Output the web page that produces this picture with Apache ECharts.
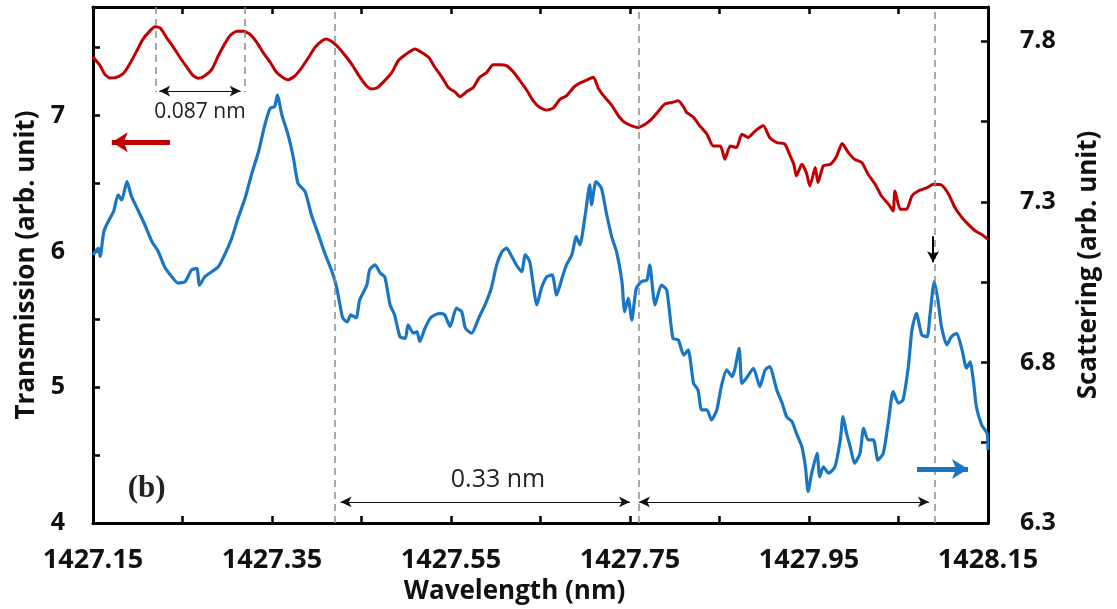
<!DOCTYPE html>
<html>
<head>
<meta charset="utf-8">
<script src="https://cdn.jsdelivr.net/npm/echarts@6/dist/echarts.min.js"></script>
<style>
  html, body { margin: 0; padding: 0; background: #ffffff; }
  #chart { width: 1117px; height: 609px; }
</style>
</head>
<body>
<div id="chart"></div>
<script>
// Wavelength range and tick step (nm)
const X_MIN = 1427.15;
const X_MAX = 1428.15;
const X_STEP = 0.1;

// Transmission (left axis) — wavelength / value
const redWl = [
  1427.150,1427.158,1427.163,1427.169,1427.176,1427.184,1427.191,1427.199,1427.206,1427.214,
  1427.219,1427.225,1427.232,1427.240,1427.247,1427.255,1427.262,1427.268,1427.275,1427.283,
  1427.290,1427.296,1427.303,1427.311,1427.318,1427.325,1427.333,1427.340,1427.348,1427.355,
  1427.363,1427.368,1427.376,1427.383,1427.391,1427.398,1427.406,1427.411,1427.418,1427.424,
  1427.432,1427.439,1427.446,1427.454,1427.461,1427.467,1427.474,1427.484,1427.491,1427.499,
  1427.510,1427.517,1427.525,1427.532,1427.540,1427.547,1427.555,1427.560,1427.568,1427.575,
  1427.582,1427.590,1427.597,1427.605,1427.612,1427.620,1427.627,1427.635,1427.642,1427.649,
  1427.657,1427.664,1427.672,1427.679,1427.687,1427.692,1427.700,1427.709,1427.715,1427.722,
  1427.730,1427.737,1427.744,1427.752,1427.759,1427.767,1427.774,1427.782,1427.789,1427.797,
  1427.804,1427.810,1427.813,1427.821,1427.828,1427.836,1427.843,1427.851,1427.856,1427.862,
  1427.869,1427.875,1427.882,1427.890,1427.899,1427.906,1427.914,1427.923,1427.929,1427.933,
  1427.936,1427.942,1427.947,1427.951,1427.957,1427.960,1427.966,1427.974,1427.981,1427.987,
  1427.994,1428.001,1428.009,1428.016,1428.024,1428.031,1428.039,1428.044,1428.046,1428.052,
  1428.059,1428.065,1428.072,1428.082,1428.089,1428.098,1428.106,1428.113,1428.121,1428.128,
  1428.136,1428.143,1428.150
];
const redVal = [
  7.432,7.368,7.306,7.277,7.282,7.311,7.380,7.478,7.565,7.626,
  7.655,7.646,7.577,7.503,7.430,7.356,7.294,7.275,7.294,7.343,
  7.441,7.515,7.589,7.621,7.621,7.601,7.540,7.466,7.393,7.319,
  7.277,7.264,7.294,7.351,7.430,7.503,7.552,7.565,7.540,7.503,
  7.441,7.380,7.306,7.232,7.196,7.203,7.245,7.319,7.404,7.449,
  7.491,7.466,7.430,7.356,7.282,7.208,7.171,7.139,7.179,7.208,
  7.282,7.319,7.375,7.375,7.368,7.319,7.257,7.183,7.109,7.061,
  7.041,7.055,7.122,7.146,7.208,7.232,7.257,7.282,7.196,7.134,
  7.072,6.999,6.950,6.925,6.913,6.937,6.974,7.035,7.085,7.097,
  7.109,7.063,7.026,6.987,6.925,6.863,6.777,6.777,6.679,6.777,
  6.765,6.863,6.839,6.888,6.925,6.839,6.802,6.790,6.703,6.642,
  6.556,6.642,6.581,6.482,6.618,6.507,6.630,6.642,6.703,6.795,
  6.728,6.679,6.655,6.568,6.494,6.408,6.347,6.297,6.445,6.310,
  6.310,6.408,6.445,6.470,6.494,6.489,6.421,6.323,6.249,6.199,
  6.150,6.125,6.089
];

// Scattering (right axis) — wavelength / value
const blueWl = [
  1427.150,1427.156,1427.158,1427.162,1427.167,1427.173,1427.178,1427.182,1427.188,1427.193,
  1427.201,1427.208,1427.216,1427.223,1427.230,1427.238,1427.245,1427.253,1427.260,1427.266,
  1427.269,1427.275,1427.283,1427.290,1427.297,1427.305,1427.312,1427.320,1427.327,1427.335,
  1427.342,1427.348,1427.353,1427.356,1427.361,1427.368,1427.374,1427.379,1427.387,1427.394,
  1427.402,1427.409,1427.417,1427.422,1427.426,1427.429,1427.434,1427.438,1427.444,1427.448,
  1427.456,1427.459,1427.465,1427.471,1427.476,1427.482,1427.487,1427.493,1427.499,1427.502,
  1427.508,1427.512,1427.515,1427.521,1427.527,1427.532,1427.538,1427.543,1427.549,1427.556,
  1427.562,1427.566,1427.573,1427.581,1427.588,1427.595,1427.601,1427.607,1427.612,1427.618,
  1427.623,1427.629,1427.633,1427.638,1427.646,1427.651,1427.657,1427.663,1427.668,1427.674,
  1427.679,1427.685,1427.690,1427.694,1427.700,1427.705,1427.707,1427.712,1427.718,1427.724,
  1427.730,1427.735,1427.741,1427.744,1427.748,1427.752,1427.757,1427.763,1427.769,1427.772,
  1427.778,1427.785,1427.791,1427.798,1427.804,1427.810,1427.815,1427.821,1427.826,1427.830,
  1427.836,1427.841,1427.847,1427.852,1427.858,1427.864,1427.867,1427.872,1427.875,1427.880,
  1427.888,1427.895,1427.901,1427.906,1427.914,1427.920,1427.925,1427.931,1427.936,1427.942,
  1427.946,1427.949,1427.953,1427.959,1427.962,1427.966,1427.972,1427.979,1427.985,1427.988,
  1427.992,1427.996,1428.001,1428.007,1428.011,1428.016,1428.022,1428.027,1428.033,1428.039,
  1428.044,1428.050,1428.055,1428.061,1428.065,1428.070,1428.076,1428.082,1428.085,1428.090,
  1428.094,1428.098,1428.104,1428.109,1428.115,1428.121,1428.126,1428.130,1428.134,1428.137,
  1428.143,1428.149,1428.150
];
const blueVal = [
  7.135,7.156,7.130,7.207,7.239,7.270,7.322,7.306,7.363,7.317,
  7.270,7.228,7.176,7.145,7.098,7.067,7.047,7.052,7.088,7.093,
  7.041,7.067,7.083,7.098,7.135,7.187,7.249,7.312,7.384,7.457,
  7.540,7.592,7.597,7.633,7.571,7.509,7.436,7.358,7.332,7.260,
  7.197,7.140,7.083,7.036,6.979,6.939,6.926,6.948,6.939,6.995,
  7.041,7.088,7.104,7.078,7.067,6.979,6.948,6.880,6.875,6.917,
  6.891,6.896,6.865,6.907,6.938,6.948,6.953,6.948,6.912,6.969,
  6.958,6.907,6.891,6.938,6.979,7.031,7.104,7.145,7.156,7.130,
  7.104,7.083,7.135,7.114,6.979,7.031,7.067,7.073,7.010,7.062,
  7.104,7.135,7.192,7.166,7.260,7.353,7.291,7.363,7.343,7.260,
  7.187,7.145,7.052,6.958,7.000,6.932,7.031,7.052,7.057,7.104,
  6.979,7.041,7.026,6.875,6.870,6.823,6.839,6.735,6.714,6.652,
  6.652,6.621,6.652,6.725,6.777,6.756,6.777,6.844,6.735,6.751,
  6.782,6.725,6.777,6.787,6.714,6.673,6.631,6.616,6.579,6.538,
  6.475,6.398,6.455,6.517,6.444,6.475,6.455,6.475,6.559,6.631,
  6.579,6.538,6.486,6.517,6.595,6.559,6.559,6.496,6.517,6.621,
  6.709,6.673,6.683,6.787,6.901,6.953,6.886,6.880,6.943,7.052,
  6.995,6.912,6.855,6.880,6.891,6.839,6.782,6.802,6.735,6.662,
  6.605,6.579,6.527
];

// Neighbouring transmission peaks (short guides) and resonance positions (full guides)
const peakGuides = [1427.220, 1427.319];
const resonanceGuides = [1427.4226, 1427.755, 1428.088];
const peakSpacingLabel = '0.087 nm';
const resonanceSpacingLabel = '0.33 nm';
const panelLabel = '(b)';

const RED = '#c00000';
const BLUE = '#1a75c2';
const GUIDE = { color: '#8c8c8c', width: 1.5, type: [7, 5] };
const DIM = { color: '#111111', width: 1.2, type: 'solid' };

const pair = (xs, ys) => xs.map((x, i) => [x, ys[i]]);
const near = (a, b) => Math.abs(a - b) < 1e-6;

const axisLineStyle = { color: '#000', width: 3 };
const tickStyle = { inside: true, length: 7, lineStyle: { color: '#000', width: 2.5 } };
const labelFont = { fontFamily: 'Open Sans', fontWeight: 'bold', color: '#111' };

const chart = echarts.init(document.getElementById('chart'), null, { renderer: 'canvas' });

const option = {
  animation: false,
  backgroundColor: '#ffffff',
  grid: { left: 93, right: 129, top: 7, bottom: 86, containLabel: false, outerBoundsMode: 'none' },
  xAxis: [
    {
      type: 'value', position: 'bottom', min: X_MIN, max: X_MAX, interval: X_STEP,
      axisLine: { show: true, onZero: false, lineStyle: axisLineStyle },
      axisTick: tickStyle,
      splitLine: { show: false },
      axisLabel: Object.assign({
        fontSize: 27, margin: 24,
        formatter: v => {
          const k = (v - X_MIN) / X_STEP;
          const r = Math.round(k);
          return (Math.abs(k - r) < 1e-3 && r % 2 === 0) ? v.toFixed(2) : '';
        }
      }, labelFont),
      name: 'Wavelength (nm)', nameLocation: 'middle', nameGap: 52,
      nameTextStyle: { fontFamily: 'Open Sans', fontWeight: 'bold', fontSize: 26, color: '#111', padding: [0, 52, 0, 0] }
    },
    {
      type: 'value', position: 'top', min: X_MIN, max: X_MAX, interval: X_STEP,
      axisLine: { show: true, onZero: false, lineStyle: axisLineStyle },
      axisTick: tickStyle,
      axisLabel: { show: false },
      splitLine: { show: false }
    }
  ],
  yAxis: [
    {
      type: 'value', position: 'left', min: 4, max: 7.8, interval: 0.5,
      axisLine: { show: true, onZero: false, lineStyle: axisLineStyle },
      axisTick: tickStyle,
      splitLine: { show: false },
      axisLabel: Object.assign({
        fontSize: 25, margin: 28,
        formatter: v => near(v, Math.round(v)) ? String(Math.round(v)) : ''
      }, labelFont),
      name: 'Transmission (arb. unit)', nameLocation: 'middle', nameGap: 52,
      nameTextStyle: { fontFamily: 'Open Sans', fontWeight: 'bold', fontSize: 26, color: '#111' }
    },
    {
      type: 'value', position: 'right', min: 6.3, max: 7.907, interval: 0.25,
      axisLine: { show: true, onZero: false, lineStyle: axisLineStyle },
      axisTick: tickStyle,
      splitLine: { show: false },
      axisLabel: Object.assign({
        fontSize: 25, margin: 32,
        formatter: v => {
          const k = (v - 6.3) / 0.5;
          return near(k, Math.round(k)) ? v.toFixed(1) : '';
        }
      }, labelFont),
      name: 'Scattering (arb. unit)', nameLocation: 'middle', nameGap: 88,
      nameTextStyle: { fontFamily: 'Open Sans', fontWeight: 'bold', fontSize: 26, color: '#111' }
    }
  ],
  series: [
    {
      name: 'Transmission', type: 'line', xAxisIndex: 0, yAxisIndex: 0,
      data: pair(redWl, redVal), showSymbol: false, smooth: 0.2,
      lineStyle: { color: RED, width: 3 }, itemStyle: { color: RED },
      z: 3,
      markLine: {
        silent: true, animation: false, symbol: ['none', 'none'],
        label: { show: false }, emphasis: { disabled: true },
        data: [
          ...resonanceGuides.map(x => ({ xAxis: x, lineStyle: GUIDE })),
          ...peakGuides.map(x => [{ coord: [x, 7.8], lineStyle: GUIDE }, { coord: [x, 7.173] }]),
          // peak spacing dimension
          [{ coord: [peakGuides[0] + 0.004, 7.181], symbol: 'arrow', symbolSize: [8, 11], lineStyle: DIM },
           { coord: [peakGuides[1] - 0.004, 7.181], symbol: 'arrow', symbolSize: [8, 11] }],
          // resonance spacing dimensions
          [{ coord: [resonanceGuides[0] + 0.004, 4.155], symbol: 'arrow', symbolSize: [8, 11], lineStyle: DIM },
           { coord: [resonanceGuides[1] - 0.005, 4.155], symbol: 'arrow', symbolSize: [8, 11] }],
          [{ coord: [resonanceGuides[1] + 0.005, 4.155], symbol: 'arrow', symbolSize: [8, 11], lineStyle: DIM },
           { coord: [resonanceGuides[2] - 0.004, 4.155], symbol: 'arrow', symbolSize: [8, 11] }],
          // axis pointer arrow for transmission
          [{ coord: [1427.236, 6.804], symbol: 'none', lineStyle: { color: RED, width: 5, type: 'solid' } },
           { coord: [1427.171, 6.804], symbol: 'arrow', symbolSize: [15, 16] }],
          // marker above the scattering peak
          [{ coord: [1428.0886, 6.111], symbol: 'none', lineStyle: { color: '#000', width: 2, type: 'solid' } },
           { coord: [1428.0886, 5.92], symbol: 'arrow', symbolSize: [9, 11] }]
        ]
      }
    },
    {
      name: 'Scattering', type: 'line', xAxisIndex: 0, yAxisIndex: 1,
      data: pair(blueWl, blueVal), showSymbol: false, smooth: 0.2,
      lineStyle: { color: BLUE, width: 3.2 }, itemStyle: { color: BLUE },
      z: 3,
      markLine: {
        silent: true, animation: false, symbol: ['none', 'none'],
        label: { show: false }, emphasis: { disabled: true },
        data: [
          [{ coord: [1428.0707, 6.468], symbol: 'none', lineStyle: { color: BLUE, width: 5, type: 'solid' } },
           { coord: [1428.1277, 6.468], symbol: 'arrow', symbolSize: [15, 16] }]
        ]
      }
    }
  ]
};

chart.setOption(option);

// Text annotations placed from data coordinates
const toPx = (x, y) => chart.convertToPixel({ xAxisIndex: 0, yAxisIndex: 0 }, [x, y]);
const pPeak = toPx((peakGuides[0] + peakGuides[1]) / 2, 7.026);
const pRes = toPx(1427.6025, 4.317);
const pPanel = toPx(1427.1887, 4.25);

chart.setOption({
  graphic: [
    { type: 'text', x: pPeak[0], y: pPeak[1], silent: true,
      style: { text: peakSpacingLabel, fill: '#222', font: '21px "Open Sans"', align: 'center', verticalAlign: 'middle' } },
    { type: 'text', x: pRes[0], y: pRes[1], silent: true,
      style: { text: resonanceSpacingLabel, fill: '#222', font: '25px "Open Sans"', align: 'center', verticalAlign: 'middle' } },
    { type: 'text', x: pPanel[0], y: pPanel[1], silent: true,
      style: { text: panelLabel, fill: '#222', font: 'bold 31px "Liberation Serif"', align: 'left', verticalAlign: 'middle' } }
  ]
});
</script>
</body>
</html>
